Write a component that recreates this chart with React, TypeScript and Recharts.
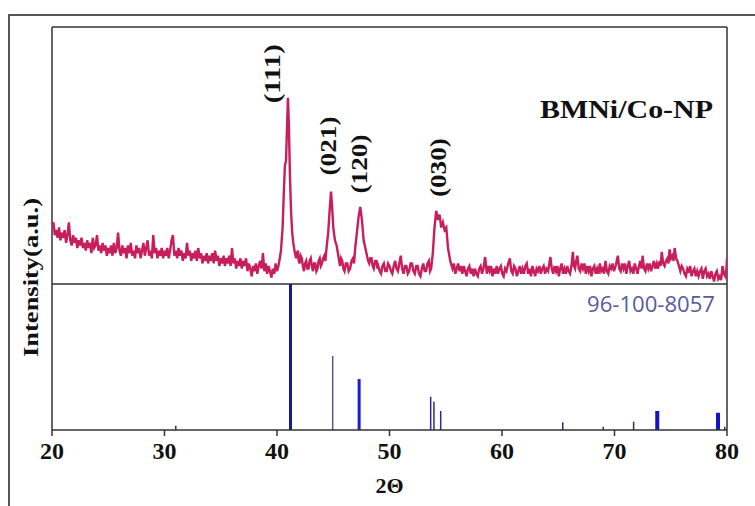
import {
  ComposedChart, Line, Scatter, XAxis, YAxis, ReferenceLine, Label,
} from 'recharts';

const SERIF = '"Liberation Serif", "Times New Roman", serif';
const SAMPLE_COLOR = '#c81e5c';
const FRAME = '#333';

// 2θ ticks
const TICKS_2THETA = [20, 30, 40, 50, 60, 70, 80];

const BG_20_40: [number, number][] = [
  [20.0, 22], [20.125, 24], [20.25, 19], [20.375, 21], [20.5, 18], [20.625, 22], [20.75, 17], [20.875, 20],
  [21.0, 18], [21.125, 21], [21.25, 16], [21.375, 19], [21.5, 24], [21.625, 17], [21.75, 15], [21.875, 19],
  [22.0, 16], [22.125, 18], [22.25, 14], [22.375, 17], [22.5, 15], [22.625, 18], [22.75, 14], [22.875, 16],
  [23.0, 13], [23.125, 17], [23.25, 14], [23.375, 16], [23.5, 12], [23.625, 18], [23.75, 14], [23.875, 15],
  [24.0, 19], [24.125, 13], [24.25, 15], [24.375, 12], [24.5, 16], [24.625, 13], [24.75, 15], [24.875, 11],
  [25.0, 14], [25.125, 12], [25.25, 15], [25.375, 11], [25.5, 16], [25.625, 12], [25.75, 14], [25.875, 20],
  [26.0, 13], [26.125, 11], [26.25, 15], [26.375, 12], [26.5, 14], [26.625, 10], [26.75, 15], [26.875, 12],
  [27.0, 16], [27.125, 11], [27.25, 13], [27.375, 10], [27.5, 15], [27.625, 12], [27.75, 14], [27.875, 10],
  [28.0, 13], [28.125, 16], [28.25, 11], [28.375, 14], [28.5, 17], [28.625, 11], [28.75, 13], [28.875, 10],
  [29.0, 19], [29.125, 12], [29.25, 14], [29.375, 10], [29.5, 13], [29.625, 11], [29.75, 14], [29.875, 10],
  [30.0, 13], [30.125, 11], [30.25, 14], [30.375, 10], [30.5, 13], [30.625, 17], [30.75, 19], [30.875, 11],
  [31.0, 13], [31.125, 10], [31.25, 14], [31.375, 11], [31.5, 13], [31.625, 9], [31.75, 12], [31.875, 10],
  [32.0, 16], [32.125, 11], [32.25, 13], [32.375, 9], [32.5, 12], [32.625, 10], [32.75, 13], [32.875, 9],
  [33.0, 14], [33.125, 10], [33.25, 12], [33.375, 8], [33.5, 11], [33.625, 9], [33.75, 12], [33.875, 8],
  [34.0, 11], [34.125, 9], [34.25, 12], [34.375, 8], [34.5, 13], [34.625, 9], [34.75, 11], [34.875, 7],
  [35.0, 10], [35.125, 8], [35.25, 11], [35.375, 7], [35.5, 10], [35.625, 8], [35.75, 11], [35.875, 7],
  [36.0, 14], [36.125, 8], [36.25, 10], [36.375, 6], [36.5, 9], [36.625, 7], [36.75, 10], [36.875, 6],
  [37.0, 9], [37.125, 7], [37.25, 10], [37.375, 5], [37.5, 8], [37.625, 6], [37.75, 3], [37.875, 7],
  [38.0, 5], [38.125, 8], [38.25, 4], [38.375, 7], [38.5, 9], [38.625, 6], [38.75, 12], [38.875, 5],
  [39.0, 8], [39.125, 4], [39.25, 7], [39.375, 5], [39.5, 2.5], [39.625, 6], [39.75, 4], [39.875, 8],
  [40.0, 5], [40.125, 7], [40.25, 10],
];
const PEAK_111: [number, number][] = [
  [40.35, 13], [40.5, 22], [40.6, 35], [40.7, 46], [40.8, 48], [40.9, 62], [40.97, 72.5],
  [41.05, 63], [41.15, 42], [41.25, 28], [41.35, 20], [41.45, 16], [41.55, 13],
];
const BG_41_44: [number, number][] = [
  [41.7, 10], [41.78, 12], [41.85, 13], [41.93, 9], [42.0, 8], [42.1, 11], [42.2, 10], [42.3, 7],
  [42.4, 5], [42.5, 8], [42.6, 9], [42.7, 6], [42.8, 6], [42.9, 9], [43.0, 10], [43.1, 7],
  [43.2, 5], [43.3, 8], [43.4, 8], [43.5, 5], [43.6, 6], [43.7, 9], [43.8, 10], [43.9, 7],
  [44.0, 8], [44.1, 10], [44.2, 11], [44.3, 9],
];
const PEAK_021: [number, number][] = [
  [44.4, 14], [44.55, 20], [44.7, 30], [44.8, 36], [44.9, 30], [45.0, 22], [45.15, 17],
  [45.3, 15], [45.45, 11], [45.6, 7], [45.7, 10], [45.8, 9], [45.9, 6], [46.0, 5], [46.12, 8],
  [46.25, 8], [46.37, 5], [46.5, 6], [46.62, 9], [46.75, 10], [46.85, 8],
];
const PEAK_120: [number, number][] = [
  [46.95, 14], [47.1, 20], [47.25, 26], [47.4, 30], [47.55, 25], [47.7, 17], [47.85, 14],
  [48.0, 11], [48.1, 9], [48.2, 8], [48.3, 10], [48.4, 10], [48.5, 7], [48.6, 6], [48.73, 9],
  [48.85, 9], [48.93, 6],
];
const BG_49_54: [number, number][] = [
  [49.0, 7], [49.125, 5], [49.25, 4], [49.375, 7], [49.5, 8], [49.625, 5], [49.75, 5], [49.875, 8],
  [50.0, 7], [50.125, 5], [50.25, 4], [50.375, 7], [50.5, 9], [50.625, 6], [50.75, 5], [50.875, 8],
  [51.0, 11], [51.125, 6], [51.25, 4], [51.375, 7], [51.5, 7], [51.625, 4], [51.75, 5], [51.875, 8],
  [52.0, 8], [52.125, 5], [52.25, 4], [52.375, 7], [52.5, 7], [52.625, 4], [52.75, 3], [52.875, 6],
  [53.0, 8], [53.125, 5], [53.25, 5], [53.375, 8], [53.5, 9], [53.6, 5], [53.7, 6],
];
const PEAK_030: [number, number][] = [
  [53.85, 12], [54.0, 22], [54.15, 28.5], [54.3, 25], [54.45, 27], [54.6, 22], [54.75, 24],
  [54.9, 21], [55.05, 22], [55.2, 14], [55.4, 9],
];
const BG_55_80: [number, number][] = [
  [55.6, 6], [55.725, 8], [55.85, 4], [55.975, 6], [56.1, 8], [56.225, 5], [56.35, 7], [56.475, 4],
  [56.6, 7], [56.725, 5], [56.85, 3], [56.975, 6], [57.1, 7], [57.225, 4], [57.35, 6], [57.475, 3],
  [57.6, 6], [57.725, 4], [57.85, 3], [57.975, 6], [58.1, 7], [58.225, 4], [58.35, 6], [58.5, 10.5],
  [58.65, 4], [58.775, 7], [58.9, 5], [59.025, 7], [59.15, 3], [59.275, 6], [59.4, 4], [59.525, 7],
  [59.65, 4], [59.775, 6], [59.9, 7], [60.025, 4], [60.15, 3], [60.275, 6], [60.4, 5], [60.55, 8],
  [60.7, 10], [60.825, 5], [60.95, 4], [61.075, 7], [61.2, 6], [61.325, 3], [61.45, 5], [61.575, 7],
  [61.7, 4], [61.825, 6], [61.95, 4], [62.075, 7], [62.2, 8], [62.325, 4], [62.45, 6], [62.575, 3],
  [62.7, 7], [62.825, 5], [62.95, 3], [63.075, 6], [63.2, 5], [63.325, 7], [63.45, 4], [63.575, 6],
  [63.7, 7], [63.825, 4], [63.95, 6], [64.1, 5], [64.3, 10.5], [64.425, 6], [64.55, 4], [64.675, 7],
  [64.8, 5], [64.925, 7], [65.05, 3], [65.175, 6], [65.3, 8], [65.425, 4], [65.55, 6], [65.675, 4],
  [65.8, 7], [65.925, 5], [66.05, 4], [66.175, 7], [66.3, 12.5], [66.4, 7], [66.5, 6], [66.6, 9],
  [66.7, 11], [66.825, 6], [66.95, 5], [67.075, 8], [67.2, 6], [67.325, 8], [67.45, 4], [67.575, 7],
  [67.7, 5], [67.825, 7], [67.95, 3], [68.075, 6], [68.2, 7], [68.325, 4], [68.45, 6], [68.575, 4],
  [68.7, 8], [68.825, 5], [68.95, 6], [69.075, 4], [69.2, 9], [69.325, 5], [69.45, 4], [69.575, 7],
  [69.7, 6], [69.825, 8], [69.95, 5], [70.1, 7], [70.3, 11], [70.425, 6], [70.55, 5], [70.675, 8],
  [70.8, 6], [70.925, 8], [71.05, 4], [71.175, 7], [71.3, 9], [71.425, 5], [71.55, 6], [71.675, 4],
  [71.8, 8], [71.925, 6], [72.05, 4], [72.175, 7], [72.3, 9], [72.4, 6], [72.5, 11], [72.625, 6],
  [72.75, 5], [72.875, 8], [73.0, 6], [73.125, 8], [73.25, 5], [73.375, 7], [73.5, 9], [73.625, 6],
  [73.75, 8], [73.875, 6], [74.0, 9], [74.1, 7], [74.2, 12.5], [74.325, 8], [74.45, 7], [74.575, 9],
  [74.7, 10], [74.8, 8], [74.9, 13.5], [75.025, 10], [75.15, 11], [75.25, 9], [75.35, 14], [75.475, 10],
  [75.6, 9], [75.725, 7], [75.85, 5], [75.975, 7], [76.1, 6], [76.225, 4], [76.35, 3], [76.475, 6],
  [76.6, 5], [76.725, 7], [76.85, 3], [76.975, 5], [77.1, 6], [77.225, 3], [77.35, 5], [77.475, 3],
  [77.6, 5], [77.725, 6], [77.85, 2], [77.975, 5], [78.1, 6], [78.225, 3], [78.35, 4], [78.475, 2],
  [78.6, 5], [78.725, 3], [78.85, 1], [78.975, 4], [79.1, 5], [79.225, 2], [79.35, 3], [79.475, 1.5],
  [79.6, 7], [79.725, 4], [79.85, 3], [79.95, 6], [80.0, 10],
];

// reference card 96-100-8057: positions and relative intensities
const REF_2THETA = [31.0, 41.2, 44.95, 47.3, 53.66, 53.95, 54.55, 65.4, 69.0, 71.7, 73.8, 79.2, 79.8];
const REF_INT = [2.9, 100, 50.7, 34.9, 22.8, 19.4, 13, 5.3, 2.3, 5.7, 13, 11.8, 2.3];

// hkl labels
const HKL = ['(111)', '(021)', '(120)', '(030)'];
const HKL_2THETA = [39.56, 44.53, 47.29, 54.28];
const HKL_Y = [81.8, 53.7, 46.7, 45.3];

// stick look, index-matched to REF_2THETA
const STICK_W = [1.5, 3, 1.5, 3, 1.5, 1.5, 1.5, 1.5, 1.5, 1.5, 4, 4, 1.5];
const STICK_C = ['#2a2a80', '#1a1a88', '#55558a', '#1c1cd0', '#2a2a90', '#2a2a90', '#2a2a90',
  '#2a2a80', '#2a2a80', '#2a2a80', '#1414c0', '#1414c0', '#2a2a80'];

const sample = [...BG_20_40, ...PEAK_111, ...BG_41_44, ...PEAK_021, ...PEAK_120,
  ...BG_49_54, ...PEAK_030, ...BG_55_80].map(([x, y]) => ({ x, y }));
const hklRows = HKL.map((name, i) => ({ x: HKL_2THETA[i], y: HKL_Y[i], name }));

const HklText = (p: any) => (
  <text
    x={p.cx} y={p.cy}
    transform={`rotate(-90 ${p.cx} ${p.cy})`}
    textAnchor="middle" dominantBaseline="central"
    fontFamily={SERIF} fontWeight="bold" fontSize={24}
    textLength={59} lengthAdjust="spacingAndGlyphs"
    fill="#111"
  >
    {p.payload.name}
  </text>
);

export default function App() {
  return (
    <div style={{ position: 'absolute', left: 0, top: 0, width: 755, height: 506, background: '#fff' }}>
      <ComposedChart width={755} height={506} margin={{ top: 27, right: 28, left: 52, bottom: 36 }}>
        <XAxis
          dataKey="x" type="number" domain={[20, 80]} ticks={TICKS_2THETA} allowDataOverflow
          height={40} tickSize={6} tickMargin={6}
          axisLine={{ stroke: FRAME, strokeWidth: 1.5 }} tickLine={{ stroke: FRAME, strokeWidth: 1.5 }}
          tick={{ fontFamily: SERIF, fontWeight: 'bold', fontSize: 24, fill: '#111' }}
        >
          <Label value="2Θ" position="bottom" offset={7}
            style={{ fontFamily: SERIF, fontWeight: 'bold', fontSize: 22, fill: '#111' }} />
        </XAxis>
        <YAxis yAxisId="top" dataKey="y" type="number" domain={[-56.8, 100]} allowDataOverflow hide />
        <YAxis yAxisId="ref" type="number" domain={[0, 276]} allowDataOverflow hide />

        {/* frame + panel divider */}
        <ReferenceLine yAxisId="top" y={100} stroke={FRAME} strokeWidth={1.5} />
        <ReferenceLine yAxisId="top" y={0} stroke={FRAME} strokeWidth={1.5} />
        <ReferenceLine yAxisId="top" x={20} stroke={FRAME} strokeWidth={1.5} />
        <ReferenceLine yAxisId="top" x={80} stroke={FRAME} strokeWidth={1.5} />

        {REF_2THETA.map((t, i) => (
          <ReferenceLine
            key={t} yAxisId="ref"
            segment={[{ x: t, y: 0 }, { x: t, y: REF_INT[i] }]}
            stroke={STICK_C[i]} strokeWidth={STICK_W[i]}
          />
        ))}

        <Line
          yAxisId="top" data={sample} dataKey="y" type="linear"
          stroke={SAMPLE_COLOR} strokeWidth={2.4} dot={false} isAnimationActive={false}
        />
        <Scatter yAxisId="top" data={hklRows} dataKey="y" shape={HklText} isAnimationActive={false} />
      </ComposedChart>

      <svg width={755} height={506} style={{ position: 'absolute', left: 0, top: 0, pointerEvents: 'none' }}>
        <rect x={9} y={15} width={800} height={600} fill="none" stroke="#444" strokeWidth={1.8} />
        <text
          x={30} y={277.5} transform="rotate(-90 30 277.5)"
          textAnchor="middle" dominantBaseline="central"
          fontFamily={SERIF} fontWeight="bold" fontSize={22}
          textLength={159} lengthAdjust="spacingAndGlyphs" fill="#111"
        >
          Intensity(a.u.)
        </text>
        <text
          x={540} y={118} fontFamily={SERIF} fontWeight="bold" fontSize={26}
          textLength={173} lengthAdjust="spacingAndGlyphs" fill="#111"
        >
          BMNi/Co-NP
        </text>
        <text
          x={587} y={312} fontFamily='"Open Sans", "DejaVu Sans", sans-serif' fontSize={22}
          textLength={128} lengthAdjust="spacingAndGlyphs" fill="#5a5a9e"
        >
          96-100-8057
        </text>
      </svg>
    </div>
  );
}
